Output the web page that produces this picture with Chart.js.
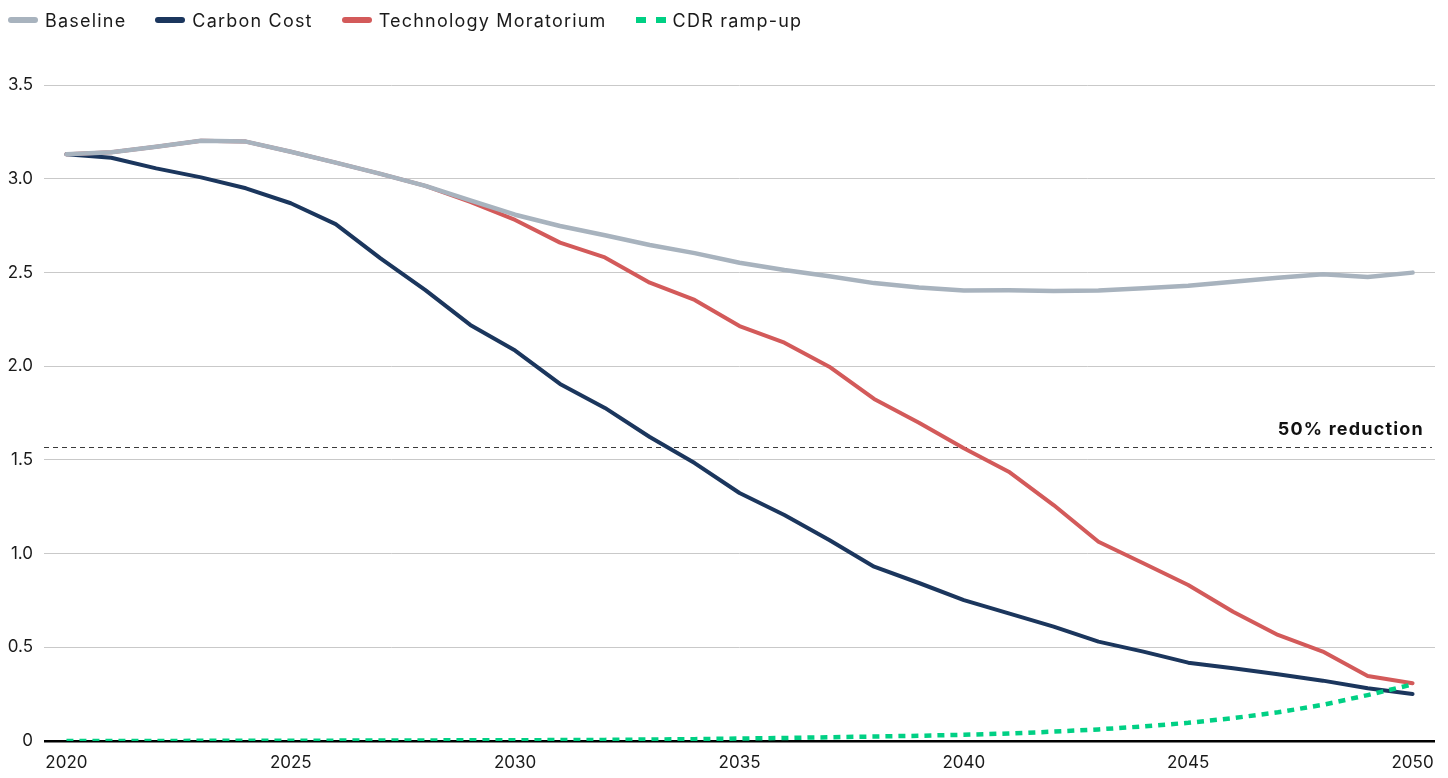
<!DOCTYPE html>
<html><head><meta charset="utf-8">
<script src="https://cdn.jsdelivr.net/npm/chart.js@4.4.1/dist/chart.umd.min.js"></script>
<style>
html,body{margin:0;padding:0;background:#fff;}
#wrap{position:relative;width:1448px;height:778px;}
#legend{position:absolute;left:8px;top:8px;height:24px;display:flex;align-items:center;font-family:Inter,"Noto Sans",sans-serif;font-size:18px;letter-spacing:1.2px;color:#1a1a1a;white-space:nowrap;}
.item{display:flex;align-items:center;margin-right:29px;}
.sw{width:30px;height:6px;border-radius:3px;margin-right:7px;}
.dsw{display:flex;width:30px;justify-content:space-between;margin-right:7px;}
.dsw span{display:block;width:10px;height:6px;}
</style></head><body>
<div id="wrap"><canvas id="c" width="1448" height="778"></canvas><div id="legend"></div></div>
<script>
const years = ['2020','2021','2022','2023','2024','2025','2026','2027','2028','2029','2030','2031','2032','2033','2034','2035','2036','2037','2038','2039','2040','2041','2042','2043','2044','2045','2046','2047','2048','2049','2050'];
const baseline = [3.13,3.141,3.171,3.203,3.198,3.144,3.086,3.026,2.962,2.884,2.808,2.748,2.698,2.646,2.603,2.552,2.513,2.48,2.443,2.42,2.404,2.405,2.401,2.403,2.415,2.429,2.45,2.472,2.49,2.476,2.499];
const carbonCost = [3.13,3.112,3.055,3.007,2.949,2.869,2.758,2.575,2.406,2.22,2.083,1.905,1.777,1.622,1.483,1.323,1.206,1.072,0.93,0.843,0.752,0.681,0.61,0.53,0.477,0.418,0.388,0.356,0.322,0.281,0.251];
const techMoratorium = [3.13,3.141,3.171,3.203,3.198,3.144,3.086,3.026,2.962,2.876,2.78,2.659,2.58,2.445,2.353,2.214,2.125,1.997,1.825,1.698,1.562,1.437,1.259,1.063,0.948,0.832,0.69,0.566,0.477,0.347,0.308];
const cdrRampUp = [0,0,0,0.001,0.001,0.002,0.002,0.003,0.003,0.004,0.004,0.005,0.006,0.008,0.01,0.013,0.016,0.02,0.024,0.028,0.033,0.04,0.05,0.062,0.078,0.097,0.122,0.153,0.193,0.245,0.302];
const yTicks = [0,0.5,1.0,1.5,2.0,2.5,3.0,3.5];
const yTickLabels = ['0','0.5','1.0','1.5','2.0','2.5','3.0','3.5'];
const reductionLevel = 1.565;
const reductionLabel = '50% reduction';
const seriesNames = ['Baseline','Carbon Cost','Technology Moratorium','CDR ramp-up'];
const colors = {base:'#a8b3be', carbon:'#1b365d', tech:'#d35a5a', cdr:'#00d084'};

const FONT = 'Inter, "Noto Sans", sans-serif';

const refLine = {
  id:'refLine',
  beforeDatasetsDraw(chart){
    const {ctx, chartArea, scales:{y}} = chart;
    const py = Math.round(y.getPixelForValue(reductionLevel)) - 0.5;
    ctx.save();
    ctx.strokeStyle = '#3a3a3a';
    ctx.lineWidth = 1.2;
    ctx.setLineDash([5,4]);
    ctx.beginPath();
    ctx.moveTo(chartArea.left, py);
    ctx.lineTo(chartArea.right - 3, py);
    ctx.stroke();
    ctx.restore();
  },
  afterDatasetsDraw(chart){
    const {ctx, chartArea, scales:{y}} = chart;
    const py = y.getPixelForValue(reductionLevel);
    ctx.save();
    ctx.font = 'bold 18px ' + FONT;
    try { ctx.letterSpacing = '1.2px'; } catch(e) {}
    ctx.fillStyle = '#111';
    ctx.textAlign = 'right';
    ctx.textBaseline = 'alphabetic';
    ctx.fillText(reductionLabel, chartArea.right - 11, py - 13);
    ctx.restore();
  }
};

const common = {pointRadius:0, pointHoverRadius:0, tension:0, fill:false, borderCapStyle:'round', borderJoinStyle:'round'};

const chart = new Chart(document.getElementById('c'), {
  type:'line',
  data:{
    labels: years,
    datasets:[
      Object.assign({label:seriesNames[3], data:cdrRampUp, borderColor:colors.cdr, borderWidth:4.5, borderDash:[7,6], order:0}, common, {borderCapStyle:'butt'}),
      Object.assign({label:seriesNames[0], data:baseline, borderColor:colors.base, borderWidth:4.5, order:1}, common),
      Object.assign({label:seriesNames[2], data:techMoratorium, borderColor:colors.tech, borderWidth:4, order:2}, common),
      Object.assign({label:seriesNames[1], data:carbonCost, borderColor:colors.carbon, borderWidth:4, order:3}, common)
    ]
  },
  options:{
    responsive:false,
    devicePixelRatio:1,
    animation:false,
    layout:{padding:{top:85, right:13, bottom:0, left:0}},
    plugins:{legend:{display:false}, tooltip:{enabled:false}},
    scales:{
      x:{
        type:'category',
        offset:true,
        grid:{display:false, drawTicks:false},
        border:{display:false},
        ticks:{
          autoSkip:false, maxRotation:0, padding:12,
          color:'#1a1a1a', font:{family:FONT, size:17},
          callback(v, i){ const l = years[i]; return (parseInt(l) % 5 === 0) ? l : ''; }
        },
        afterFit(s){ s.height = 37; }
      },
      y:{
        min:0, max:3.5,
        afterBuildTicks(s){ s.ticks = yTicks.map(v => ({value:v})); },
        grid:{
          drawTicks:false,
          color(c){ return c.tick && c.tick.value === 0 ? '#000' : '#c9c9c9'; },
          lineWidth(c){ return c.tick && c.tick.value === 0 ? 2.5 : 1; }
        },
        border:{display:false},
        ticks:{
          padding:11, color:'#1a1a1a', font:{family:FONT, size:17},
          callback(v){ const i = yTicks.indexOf(v); return i >= 0 ? yTickLabels[i] : ''; }
        },
        afterFit(s){ s.width = 44; }
      }
    }
  },
  plugins:[refLine]
});

// HTML legend from series names
const legend = document.getElementById('legend');
const legendOrder = [[0,colors.base,false],[1,colors.carbon,false],[2,colors.tech,false],[3,colors.cdr,true]];
legendOrder.forEach(([i,col,dashed]) => {
  const it = document.createElement('div'); it.className = 'item';
  let sw;
  if (dashed) {
    sw = document.createElement('div'); sw.className = 'dsw';
    for (let k=0;k<2;k++){ const s=document.createElement('span'); s.style.background=col; sw.appendChild(s); }
  } else {
    sw = document.createElement('div'); sw.className = 'sw'; sw.style.background = col;
  }
  const t = document.createElement('span'); t.textContent = seriesNames[i];
  it.appendChild(sw); it.appendChild(t); legend.appendChild(it);
});
</script>
</body></html>
